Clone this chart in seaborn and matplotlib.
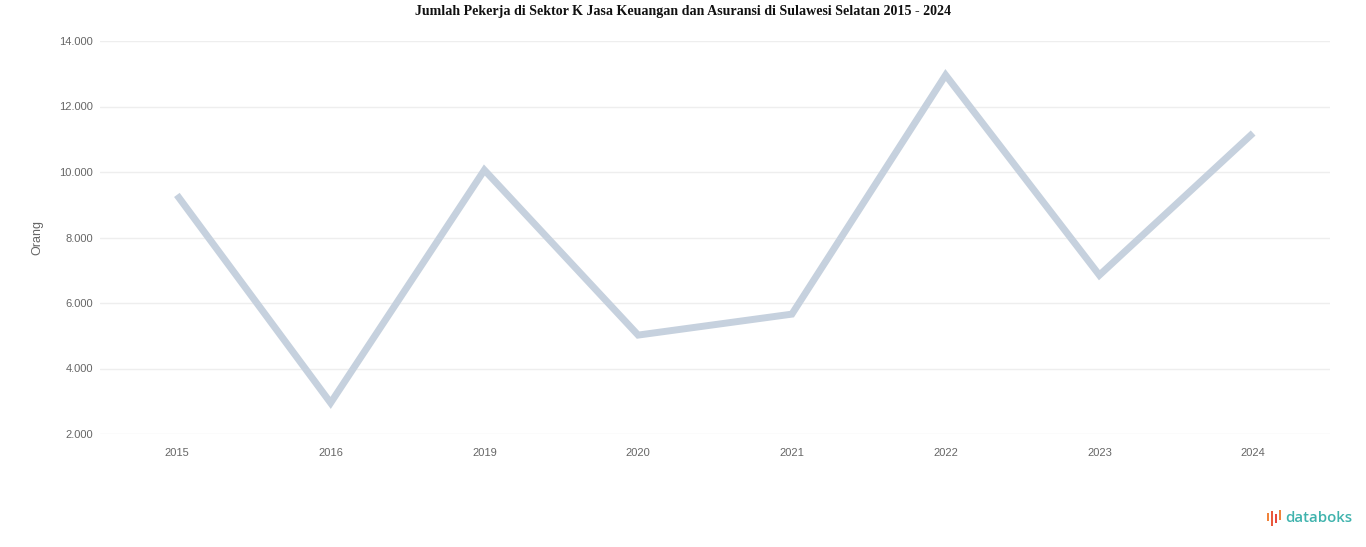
import matplotlib
matplotlib.use("Agg")
import matplotlib.pyplot as plt
import seaborn as sns
import pandas as pd
from matplotlib.patches import Rectangle

years = ["2015", "2016", "2019", "2020", "2021", "2022", "2023", "2024"]
workers = [9300, 2950, 10060, 5020, 5660, 12960, 6850, 11190]
y_ticks = [2000, 4000, 6000, 8000, 10000, 12000, 14000]
y_tick_labels = ["2.000", "4.000", "6.000", "8.000", "10.000", "12.000", "14.000"]

df = pd.DataFrame({"Tahun": years, "Orang": workers})
df["pos"] = range(len(years))

sns.set_theme(style="white")
plt.rcParams["font.family"] = ["Liberation Sans", "DejaVu Sans"]

fig = plt.figure(figsize=(13.66, 5.47), dpi=100)
ax = fig.add_axes([100/1366, 1-434/547, 1230/1366, (434-41)/547])

sns.lineplot(data=df, x="pos", y="Orang", ax=ax, color="#c6d1de", linewidth=5,
             solid_joinstyle="miter", solid_capstyle="butt")

ax.set_xlim(-0.5, len(years) - 0.5)
ax.set_ylim(2000, 14000)
ax.set_xticks(df["pos"])
ax.set_xticklabels(years)
ax.set_yticks(y_ticks)
ax.set_yticklabels(y_tick_labels)
ax.tick_params(axis="both", length=0, labelsize=8, colors="#666666")
ax.tick_params(axis="x", pad=10)
ax.tick_params(axis="y", pad=5)
ax.grid(axis="y", color="#eeeeee", linewidth=1)
ax.set_axisbelow(True)
for s in ax.spines.values():
    s.set_visible(False)
ax.set_xlabel("")
ax.set_ylabel("Orang", fontsize=9, color="#666666")
ax.yaxis.set_label_coords(-0.046, 0.5)

fig.text(0.5, 1-11/547, "Jumlah Pekerja di Sektor K Jasa Keuangan dan Asuransi di Sulawesi Selatan 2015 - 2024",
         ha="center", va="center", fontsize=10.1, fontweight="bold",
         family=["Liberation Serif", "DejaVu Serif"], color="#111111")

# databoks logo
fig.text(1285/1366, 1-518/547, "databoks", ha="left", va="center", fontsize=10.8,
         color="#3fb3ad", fontweight="semibold", family=["Open Sans", "DejaVu Sans"])
bar_specs = [(1267, 513, 521, "#f0833a"), (1271, 511, 526, "#e95a3c"), (1275, 514, 523, "#e8483f"),
             (1279, 510, 520, "#f0833a")]
for x, y0, y1, c in bar_specs:
    fig.add_artist(Rectangle((x/1366, 1-y1/547), 2.2/1366, (y1-y0)/547,
                             transform=fig.transFigure, color=c, lw=0))

fig.savefig("out.png", dpi=100, facecolor="white")
